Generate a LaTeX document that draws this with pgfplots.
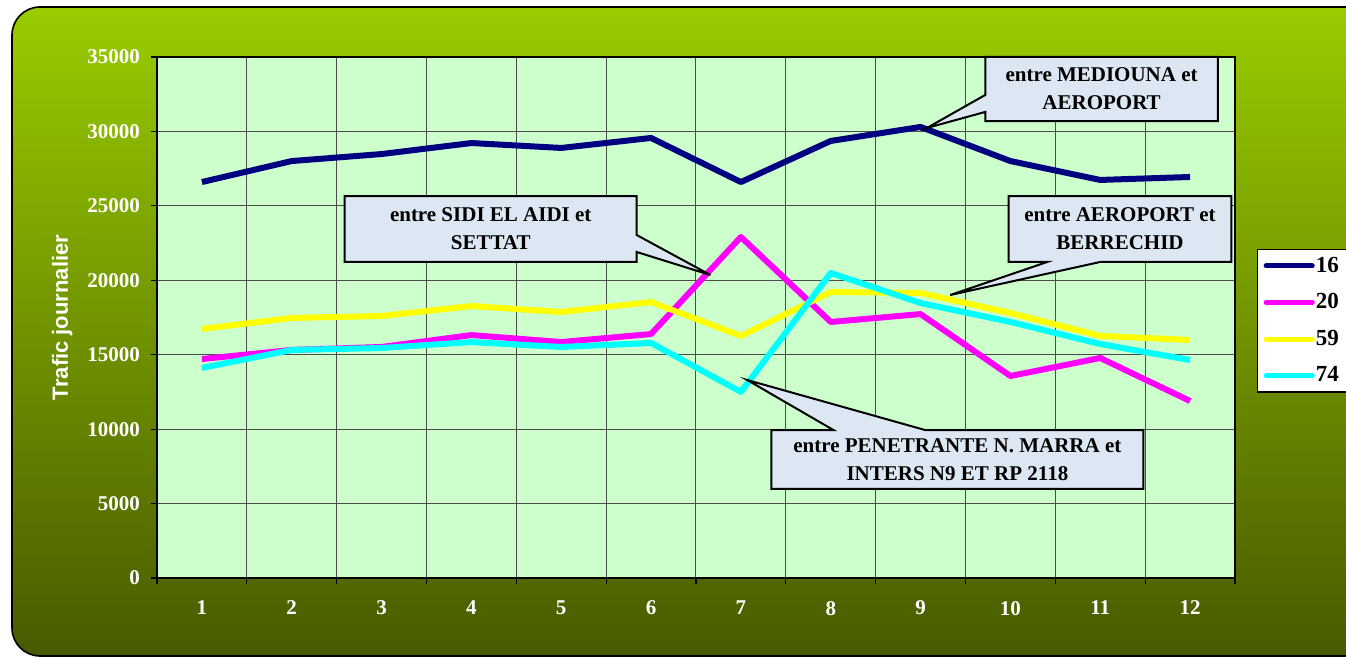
\documentclass[border=0pt]{standalone}
\usepackage{fontspec}
\setmainfont{Liberation Serif}
\newfontfamily\arialfont{Liberation Sans}
\usepackage{pgfplots}
\pgfplotsset{compat=1.18}
\definecolor{bgtop}{HTML}{99CC00}
\definecolor{bgmid}{HTML}{769A00}
\definecolor{bgbot}{HTML}{485A00}
\definecolor{plotbg}{HTML}{CCFFCC}
\definecolor{callfill}{HTML}{DDE7F3}
\definecolor{navyline}{HTML}{000080}
\definecolor{magline}{HTML}{FF00FF}
\definecolor{yelline}{HTML}{FFFF00}
\definecolor{cyanline}{HTML}{00FFFF}
\newcommand{\callfont}{\fontsize{10.5}{14}\selectfont\bfseries}
\begin{document}
\begin{tikzpicture}[x=1pt,y=1pt]
\path[use as bounding box] (-78.5,-39.5) rectangle (594.5,289);
\begin{scope}
\clip (-78.5,-39.5) rectangle (594.5,289);
\shade[top color=bgtop, middle color=bgmid, bottom color=bgbot, draw=black, line width=0.8pt, rounded corners=14pt] (-72.5,-39) rectangle (620,285.5);
\end{scope}
\begin{axis}[
  at={(0,0)}, anchor=south west, scale only axis,
  width=539pt, height=260.5pt,
  clip=false,
  xmin=0.5, xmax=12.5, ymin=0, ymax=35000,
  axis background/.style={fill=plotbg},
  axis line style={line width=1.2pt, black},
  xtick={0.5,1.5,...,12.5}, xticklabels={},
  extra x ticks={1,2,3,4,5,6,7,8,9,10,11,12},
  extra x tick style={grid=none, major tick length=0pt},
  ytick={0,5000,10000,15000,20000,25000,30000,35000},
  xtick pos=bottom, ytick pos=left,
  xmajorgrids, ymajorgrids,
  grid style={black!70, line width=0.5pt},
  tick align=outside, major tick length=3pt,
  tick style={black, line width=0.6pt},
  scaled y ticks=false,
  /pgf/number format/1000 sep={},
  /pgf/number format/assume math mode=true,
  tick label style={font=\fontsize{10.5}{12}\selectfont\bfseries, text=white},
  yticklabel style={xshift=-2pt},
  xticklabel style={yshift=-8pt},
  ylabel={Trafic journalier},
  every axis y label/.style={at={(axis description cs:-0.088,0.5)}, rotate=90, anchor=center, font=\arialfont\bfseries\fontsize{11}{13}\selectfont, text=white},
  legend style={at={(1.0204,0.6315)}, anchor=north west, fill=white, draw=black, line width=0.6pt, font=\fontsize{11.5}{13}\selectfont\bfseries, row sep=8pt, inner sep=3pt, nodes={inner sep=0.6pt}},
  legend cell align=left,
  legend image code/.code={\draw[#1, line width=2.6pt, line cap=round] (0pt,0pt) -- (23pt,0pt);},
]
\addplot[navyline, line width=3pt, line join=round] coordinates {(1,26600) (2,28010) (3,28480) (4,29220) (5,28890) (6,29560) (7,26600) (8,29360) (9,30300) (10,28010) (11,26740) (12,26940)};
\addlegendentry{16}
\addplot[magline, line width=3pt, line join=round] coordinates {(1,14710) (2,15320) (3,15520) (4,16320) (5,15850) (6,16390) (7,22910) (8,17200) (9,17730) (10,13570) (11,14780) (12,11890)};
\addlegendentry{20}
\addplot[yelline, line width=3pt, line join=round] coordinates {(1,16730) (2,17470) (3,17600) (4,18270) (5,17870) (6,18540) (7,16260) (8,19210) (9,19150) (10,17800) (11,16260) (12,15990)};
\addlegendentry{59}
\addplot[cyanline, line width=3pt, line join=round] coordinates {(1,14110) (2,15320) (3,15450) (4,15850) (5,15520) (6,15790) (7,12500) (8,20490) (9,18470) (10,17200) (11,15720) (12,14640)};
\addlegendentry{74}
% callouts
\draw[fill=callfill, line width=1pt] (axis cs:9.72,35000) -- (axis cs:12.31,35000) -- (axis cs:12.31,30700) -- (axis cs:9.72,30700) -- (axis cs:9.72,31310) -- (axis cs:9.07,30230) -- (axis cs:9.72,32450) -- cycle;
\node[font=\callfont, align=center] at (axis cs:11.015,32850) {entre MEDIOUNA et\\AEROPORT};
\draw[fill=callfill, line width=1pt] (axis cs:2.59,25660) -- (axis cs:5.84,25660) -- (axis cs:5.84,23040) -- (axis cs:6.66,20355) -- (axis cs:5.84,21900) -- (axis cs:5.84,21230) -- (axis cs:2.59,21230) -- cycle;
\node[font=\callfont, align=center] at (axis cs:4.215,23445) {entre SIDI EL AIDI et\\SETTAT};
\draw[fill=callfill, line width=1pt] (axis cs:9.98,25660) -- (axis cs:12.46,25660) -- (axis cs:12.46,21230) -- (axis cs:11.0,21230) -- (axis cs:9.33,19010) -- (axis cs:10.41,21230) -- (axis cs:9.98,21230) -- cycle;
\node[font=\callfont, align=center] at (axis cs:11.22,23445) {entre AEROPORT et\\BERRECHID};
\draw[fill=callfill, line width=1pt] (axis cs:7.34,9940) -- (axis cs:8.03,9940) -- (axis cs:7.07,13300) -- (axis cs:9.05,9940) -- (axis cs:11.48,9940) -- (axis cs:11.48,5980) -- (axis cs:7.34,5980) -- cycle;
\node[font=\callfont, align=center] at (axis cs:9.41,7960) {entre PENETRANTE N. MARRA et\\INTERS N9 ET RP 2118};
\end{axis}
\end{tikzpicture}
\end{document}
